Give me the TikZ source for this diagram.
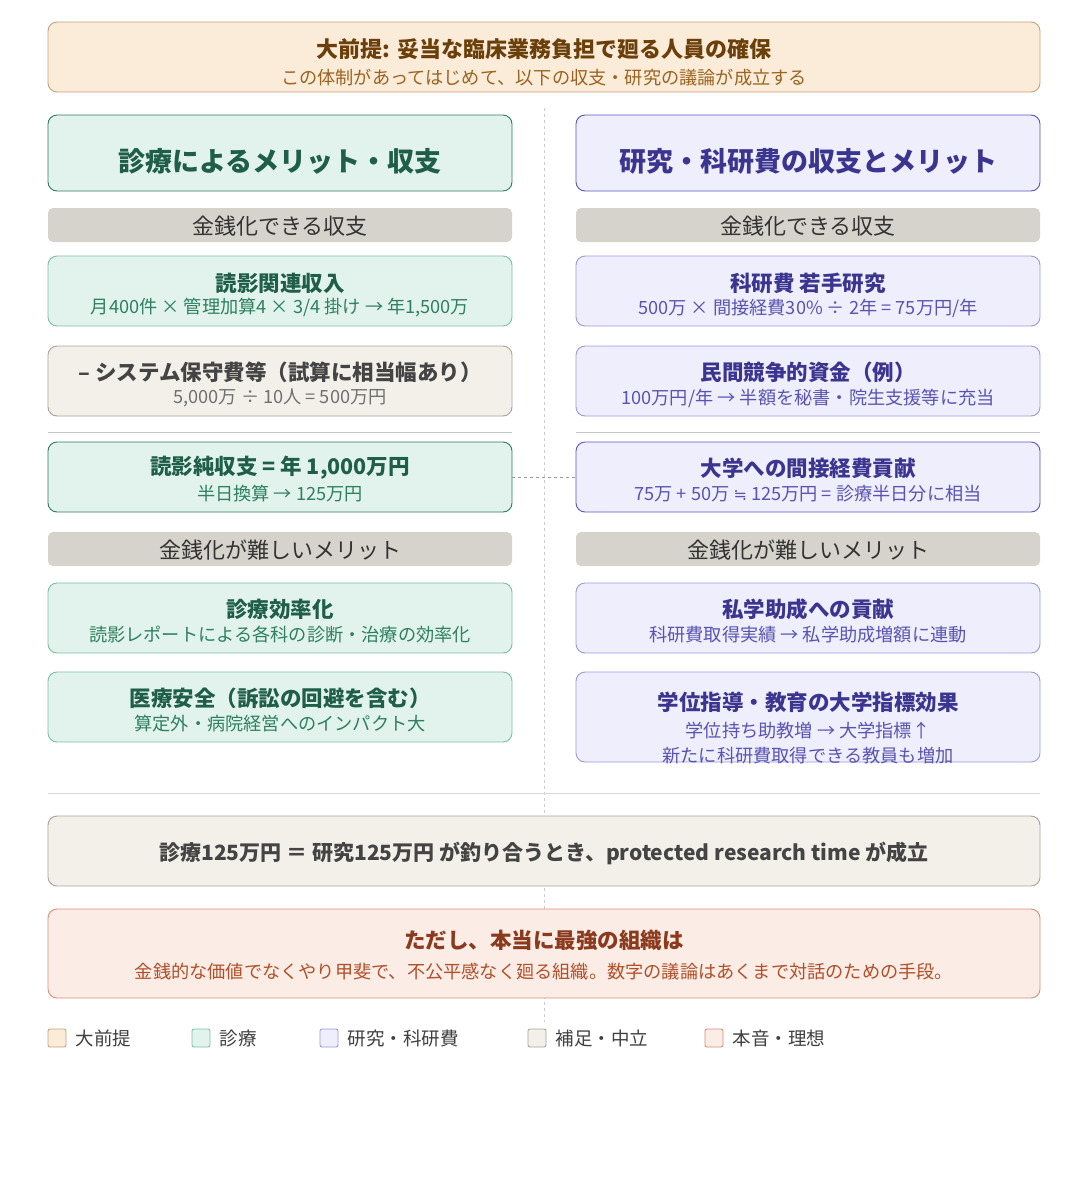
\documentclass[tikz,border=0pt]{standalone}
\usepackage{fontspec}
\setmainfont{Noto Sans CJK JP}
\newfontfamily\dvsym{DejaVu Sans}
\begin{document}
\begin{tikzpicture}[x=1pt,y=-1pt]
\definecolor{orF}{HTML}{FBEBD9}\definecolor{orD}{HTML}{C9A27A}\definecolor{orT}{HTML}{6B3F0A}\definecolor{orS}{HTML}{9A6420}
\definecolor{grF}{HTML}{E1F3EC}\definecolor{grD}{HTML}{7FBFA5}\definecolor{grDD}{HTML}{2E7D5E}\definecolor{grT}{HTML}{1F5E48}\definecolor{grS}{HTML}{2E8060}
\definecolor{puF}{HTML}{EEEEFC}\definecolor{puD}{HTML}{9E99DC}\definecolor{puDD}{HTML}{5B55C0}\definecolor{puT}{HTML}{3C3590}\definecolor{puS}{HTML}{5A54B0}
\definecolor{beF}{HTML}{F3F0EA}\definecolor{beD}{HTML}{A9A49B}\definecolor{beT}{HTML}{444444}\definecolor{beS}{HTML}{707070}
\definecolor{bar}{HTML}{D6D3CC}
\definecolor{rdF}{HTML}{FBECE6}\definecolor{rdD}{HTML}{D8907A}\definecolor{rdT}{HTML}{8B3A1E}\definecolor{rdS}{HTML}{B0502A}
\tikzset{bx/.style={rounded corners=9pt,line width=0.9pt},
 tt/.style={font=\fontsize{21.5}{24}\selectfont\bfseries},
 st/.style={font=\fontsize{18.2}{21}\selectfont}}
\useasboundingbox (0,0) rectangle (1088,1200);
\fill[white] (0,0) rectangle (1088,1200);
% center dashed
\draw[gray!40,dashed,line width=0.9pt] (544,108) -- (544,1022);
% top
\draw[bx,fill=orF,draw=orD] (48,22) rectangle (1040,92);
\node[font=\fontsize{22}{24}\selectfont\bfseries,text=orT] (top) at (544,49) {大前提: 妥当な臨床業務負担で廻る人員の確保};
\node[st,text=orS] (tops) at (544,78) {この体制があってはじめて、以下の収支・研究の議論が成立する};
% headers
\draw[bx,fill=grF,draw=grDD] (48,115) rectangle (512,191);
\node[font=\fontsize{27}{30}\selectfont\bfseries,text=grT] (hl) at (280,161) {診療によるメリット・収支};
\draw[bx,fill=puF,draw=puDD] (576,115) rectangle (1040,191);
\node[font=\fontsize{27}{30}\selectfont\bfseries,text=puT] (hr) at (808,161) {研究・科研費の収支とメリット};
% bars
\foreach \x/\y/\t in {48/208/金銭化できる収支,576/208/金銭化できる収支,48/532/金銭化が難しいメリット,576/532/金銭化が難しいメリット}{
 \fill[bar,rounded corners=5pt] (\x,\y) rectangle ++(464,34);
 \node[font=\fontsize{22}{24}\selectfont,text=black!80] at (\x+232,\y+18) {\t};}
% left boxes
\draw[bx,fill=grF,draw=grD] (48,256) rectangle (512,326);
\node[tt,text=grT] (l1) at (280,283) {読影関連収入};
\node[st,text=grS] at (280,308) {月400件 × 管理加算4 × 3/4 掛け → 年1,500万};
\draw[bx,fill=beF,draw=beD] (48,346) rectangle (512,416);
\node[tt,text=beT] (l2) at (280,372) {– システム保守費等（試算に相当幅あり）};
\node[st,text=beS] at (280,398) {5,000万 ÷ 10人 = 500万円};
\draw[bx,fill=grF,draw=grDD] (48,442) rectangle (512,512);
\node[tt,text=grT] (l3) at (280,468) {読影純収支 = 年 1,000万円};
\node[st,text=grS] at (280,494) {半日換算 → 125万円};
\coordinate (l3e) at (512,477);
\draw[bx,fill=grF,draw=grD] (48,583) rectangle (512,653);
\node[tt,text=grT] (l4) at (280,609) {診療効率化};
\node[st,text=grS] at (280,635) {読影レポートによる各科の診断・治療の効率化};
\draw[bx,fill=grF,draw=grD] (48,672) rectangle (512,742);
\node[tt,text=grT] (l5) at (280,698) {医療安全（訴訟の回避を含む）};
\node[st,text=grS] at (280,724) {算定外・病院経営へのインパクト大};
% right boxes
\draw[bx,fill=puF,draw=puD] (576,256) rectangle (1040,326);
\node[tt,text=puT] (r1) at (808,283) {科研費 若手研究};
\node[st,text=puS] at (808,308) {500万 × 間接経費30\% ÷ 2年 = 75万円/年};
\draw[bx,fill=puF,draw=puD] (576,346) rectangle (1040,416);
\node[tt,text=puT] (r2) at (808,372) {民間競争的資金（例）};
\node[st,text=puS] at (808,398) {100万円/年 → 半額を秘書・院生支援等に充当};
\draw[bx,fill=puF,draw=puDD] (576,442) rectangle (1040,512);
\node[tt,text=puT] (r3) at (808,468) {大学への間接経費貢献};
\node[st,text=puS] at (808,494) {75万 + 50万 {\dvsym\fontsize{16}{19}\selectfont ≒} 125万円 = 診療半日分に相当};
\coordinate (r3w) at (576,477);
\draw[bx,fill=puF,draw=puD] (576,583) rectangle (1040,653);
\node[tt,text=puT] (r4) at (808,609) {私学助成への貢献};
\node[st,text=puS] at (808,635) {科研費取得実績 → 私学助成増額に連動};
\draw[bx,fill=puF,draw=puD] (576,672) rectangle (1040,762);
\node[tt,text=puT] (r5) at (808,702) {学位指導・教育の大学指標効果};
\node[st,text=puS] at (808,731) {学位持ち助教増 → 大学指標↑};
\node[st,text=puS] at (808,756) {新たに科研費取得できる教員も増加};
% separators
\draw[gray!45,line width=1pt] (48,432) -- (512,432) (576,432) -- (1040,432);
\draw[gray!30,line width=0.9pt] (48,793) -- (1040,793);
\draw[gray!80,dashed,line width=0.9pt] (l3e) -- (r3w);
% bottom
\draw[bx,fill=beF,draw=beD] (48,816) rectangle (1040,886);
\node[font=\fontsize{21}{24}\selectfont\bfseries,text=beT] (b1) at (544,853) {診療125万円 ＝ 研究125万円 が釣り合うとき、protected research time が成立};
\draw[bx,fill=rdF,draw=rdD] (48,909) rectangle (1040,998);
\node[tt,text=rdT] (b2) at (544,940) {ただし、本当に最強の組織は};
\node[st,text=rdS] at (544,972) {金銭的な価値でなくやり甲斐で、不公平感なく廻る組織。数字の議論はあくまで対話のための手段。};
% legend
\foreach \x/\f/\d/\t in {48/orF/orD/大前提,192/grF/grD/診療,320/puF/puD/研究・科研費,528/beF/beD/補足・中立,705/rdF/rdD/本音・理想}{
 \draw[fill=\f,draw=\d,rounded corners=2pt,line width=0.9pt] (\x,1029) rectangle ++(18,18);
 \node[anchor=west,font=\fontsize{18.5}{21}\selectfont,text=black!75] at (\x+24,1038) {\t};}
\end{tikzpicture}
\end{document}
